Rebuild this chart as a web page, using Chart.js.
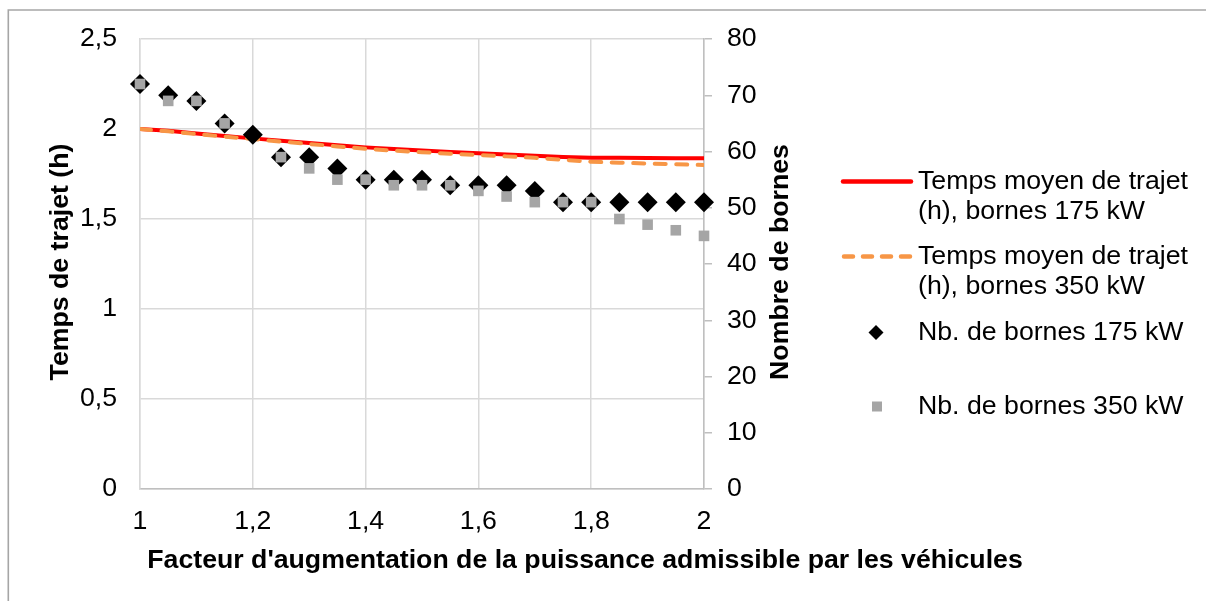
<!DOCTYPE html>
<html>
<head>
<meta charset="utf-8">
<script src="https://cdn.jsdelivr.net/npm/chart.js@4/dist/chart.umd.min.js"></script>
<style>
  html, body { margin: 0; padding: 0; background: #ffffff; }
  #wrap { width: 1206px; height: 601px; position: relative; }
</style>
</head>
<body>
<div id="wrap"><canvas id="c" width="1206" height="601"></canvas></div>
<script>
// ---- Data ----
const facteurs = [1, 1.05, 1.1, 1.15, 1.2, 1.25, 1.3, 1.35, 1.4, 1.45, 1.5, 1.55, 1.6, 1.65, 1.7, 1.75, 1.8, 1.85, 1.9, 1.95, 2];
const tempsBornes175 = [2.000, 1.990, 1.975, 1.961, 1.948, 1.935, 1.922, 1.910, 1.898, 1.889, 1.881, 1.873, 1.865, 1.858, 1.851, 1.845, 1.841, 1.840, 1.839, 1.838, 1.837];
const tempsBornes350 = [2.000, 1.987, 1.972, 1.958, 1.944, 1.930, 1.917, 1.903, 1.890, 1.880, 1.871, 1.863, 1.856, 1.848, 1.840, 1.829, 1.818, 1.813, 1.808, 1.804, 1.800];
const nbBornes175 = [72, 70, 69, 65, 63, 59, 59, 57, 55, 55, 55, 54, 54, 54, 53, 51, 51, 51, 51, 51, 51];
const nbBornes350 = [72, 69, 69, 65, null, 59, 57, 55, 55, 54, 54, 54, 53, 52, 51, 51, 51, 48, 47, 46, 45];

const xTickLabels = ['1', '1,2', '1,4', '1,6', '1,8', '2'];
const yTickLabels = ['0', '0,5', '1', '1,5', '2', '2,5'];
const y2TickLabels = ['0', '10', '20', '30', '40', '50', '60', '70', '80'];

const seriesNames = [
  ['Temps moyen de trajet', '(h), bornes 175 kW'],
  ['Temps moyen de trajet', '(h), bornes 350 kW'],
  ['Nb. de bornes 175 kW'],
  ['Nb. de bornes 350 kW']
];
const xTitle = "Facteur d'augmentation de la puissance admissible par les véhicules";
const yTitle = 'Temps de trajet (h)';
const y2Title = 'Nombre de bornes';

// ---- Helpers ----
const toPoints = (ys) => facteurs.map((x, i) => ({ x: x, y: ys[i] }));
const FONT = '"Liberation Sans", Arial, sans-serif';
const FS = 26.7;
const RED = '#ff0000';
const ORANGE = '#f79646';
const GRAY = '#a5a5a5';
const GRID = '#d9d9d9';
const AXIS = '#bfbfbf';

const decorPlugin = {
  id: 'decor',
  beforeDraw(chart) {
    const ctx = chart.ctx;
    ctx.save();
    ctx.fillStyle = '#ffffff';
    ctx.fillRect(0, 0, chart.width, chart.height);
    ctx.strokeStyle = '#a6a6a6';
    ctx.lineWidth = 1.6;
    ctx.beginPath();
    ctx.moveTo(8.3, chart.height);
    ctx.lineTo(8.3, 10);
    ctx.lineTo(chart.width, 10);
    ctx.stroke();
    ctx.restore();
  },
  afterDraw(chart) {
    const ctx = chart.ctx;
    const area = chart.chartArea;
    const midY = (area.top + area.bottom) / 2 - 2;
    ctx.save();
    ctx.fillStyle = '#000000';
    ctx.font = 'bold ' + FS + 'px ' + FONT;
    ctx.textAlign = 'center';
    ctx.textBaseline = 'middle';
    // x title
    ctx.fillText(xTitle, 585, 561);
    // left title
    ctx.save();
    ctx.translate(61, midY);
    ctx.rotate(-Math.PI / 2);
    ctx.fillText(yTitle, 0, 0);
    ctx.restore();
    // right title
    ctx.save();
    ctx.translate(781, midY);
    ctx.rotate(-Math.PI / 2);
    ctx.fillText(y2Title, 0, 0);
    ctx.restore();

    // legend
    const ds = chart.data.datasets;
    ctx.font = FS + 'px ' + FONT;
    ctx.textAlign = 'left';
    const textX = 918;
    const rows = [181.5, 256.5, 332.5, 406.5];
    const lh = 30;
    // red line
    ctx.lineCap = 'round';
    ctx.strokeStyle = ds[0].borderColor;
    ctx.lineWidth = 4.5;
    ctx.beginPath(); ctx.moveTo(843, rows[0]); ctx.lineTo(911, rows[0]); ctx.stroke();
    // orange dashed
    ctx.strokeStyle = ds[1].borderColor;
    ctx.lineWidth = 4.5;
    ctx.setLineDash([9, 10]);
    ctx.beginPath(); ctx.moveTo(844, rows[1]); ctx.lineTo(911, rows[1]); ctx.stroke();
    ctx.setLineDash([]);
    // diamond
    ctx.fillStyle = ds[2].backgroundColor;
    ctx.beginPath();
    ctx.moveTo(876, rows[2] - 7.5); ctx.lineTo(883.5, rows[2]); ctx.lineTo(876, rows[2] + 7.5); ctx.lineTo(868.5, rows[2]);
    ctx.closePath(); ctx.fill();
    // square
    ctx.fillStyle = ds[3].backgroundColor;
    ctx.fillRect(872, rows[3] - 5, 10, 10);
    // texts
    ctx.fillStyle = '#000000';
    seriesNames.forEach((lines, i) => {
      lines.forEach((t, j) => ctx.fillText(t, textX, rows[i] + j * lh));
    });
    ctx.restore();
  }
};

new Chart(document.getElementById('c'), {
  type: 'scatter',
  data: {
    datasets: [
      {
        label: seriesNames[0].join(' '),
        data: toPoints(tempsBornes175),
        yAxisID: 'y',
        showLine: true,
        borderColor: RED,
        backgroundColor: RED,
        borderWidth: 4,
        borderCapStyle: 'round',
        pointRadius: 0,
        pointHoverRadius: 0,
        order: 4
      },
      {
        label: seriesNames[1].join(' '),
        data: toPoints(tempsBornes350),
        yAxisID: 'y',
        showLine: true,
        borderColor: ORANGE,
        backgroundColor: ORANGE,
        borderWidth: 4,
        borderDash: [11, 10.5],
        borderCapStyle: 'round',
        pointRadius: 0,
        pointHoverRadius: 0,
        order: 3
      },
      {
        label: seriesNames[2].join(' '),
        data: toPoints(nbBornes175),
        yAxisID: 'y2',
        showLine: false,
        pointStyle: 'rectRot',
        pointRadius: 10,
        pointHoverRadius: 10,
        backgroundColor: '#000000',
        borderColor: '#000000',
        pointBorderWidth: 0,
        clip: false,
        order: 2
      },
      {
        label: seriesNames[3].join(' '),
        data: toPoints(nbBornes350),
        yAxisID: 'y2',
        showLine: false,
        pointStyle: 'rect',
        pointRadius: 7.5,
        pointHoverRadius: 7.5,
        backgroundColor: GRAY,
        borderColor: GRAY,
        pointBorderWidth: 0,
        clip: false,
        order: 1
      }
    ]
  },
  options: {
    responsive: false,
    devicePixelRatio: 1,
    animation: false,
    events: [],
    layout: { padding: { left: 0, right: 392, top: 39, bottom: 0 } },
    plugins: { legend: { display: false }, tooltip: { enabled: false } },
    scales: {
      x: {
        type: 'linear',
        position: 'bottom',
        min: 1, max: 2,
        afterFit: (s) => { s.height = 112; },
        afterBuildTicks: (s) => { s.ticks = xTickLabels.map((_, i) => ({ value: 1 + i * 0.2 })); },
        ticks: {
          stepSize: 0.2,
          padding: 17,
          color: '#000000',
          font: { family: FONT, size: FS },
          maxRotation: 0,
          callback: (v, i) => xTickLabels[i]
        },
        grid: { color: GRID, lineWidth: 1.5, drawTicks: false },
        border: { color: AXIS, width: 1.5 }
      },
      y: {
        type: 'linear',
        position: 'left',
        min: 0, max: 2.5,
        afterFit: (s) => { s.width = 140; },
        afterBuildTicks: (s) => { s.ticks = yTickLabels.map((_, i) => ({ value: i * 0.5 })); },
        ticks: {
          stepSize: 0.5,
          padding: 23,
          color: '#000000',
          font: { family: FONT, size: FS },
          callback: (v, i) => yTickLabels[i]
        },
        grid: { color: GRID, lineWidth: 1.5, drawTicks: false },
        border: { color: GRID, width: 1.5 }
      },
      y2: {
        type: 'linear',
        position: 'right',
        min: 0, max: 80,
        afterFit: (s) => { s.width = 110; },
        afterBuildTicks: (s) => { s.ticks = y2TickLabels.map((_, i) => ({ value: i * 10 })); },
        ticks: {
          stepSize: 10,
          padding: 15,
          color: '#000000',
          font: { family: FONT, size: FS },
          callback: (v, i) => y2TickLabels[i]
        },
        grid: { drawOnChartArea: false, drawTicks: true, tickLength: 8, color: AXIS, lineWidth: 1.5 },
        border: { color: AXIS, width: 1.5 }
      }
    }
  },
  plugins: [decorPlugin]
});
</script>
</body>
</html>
